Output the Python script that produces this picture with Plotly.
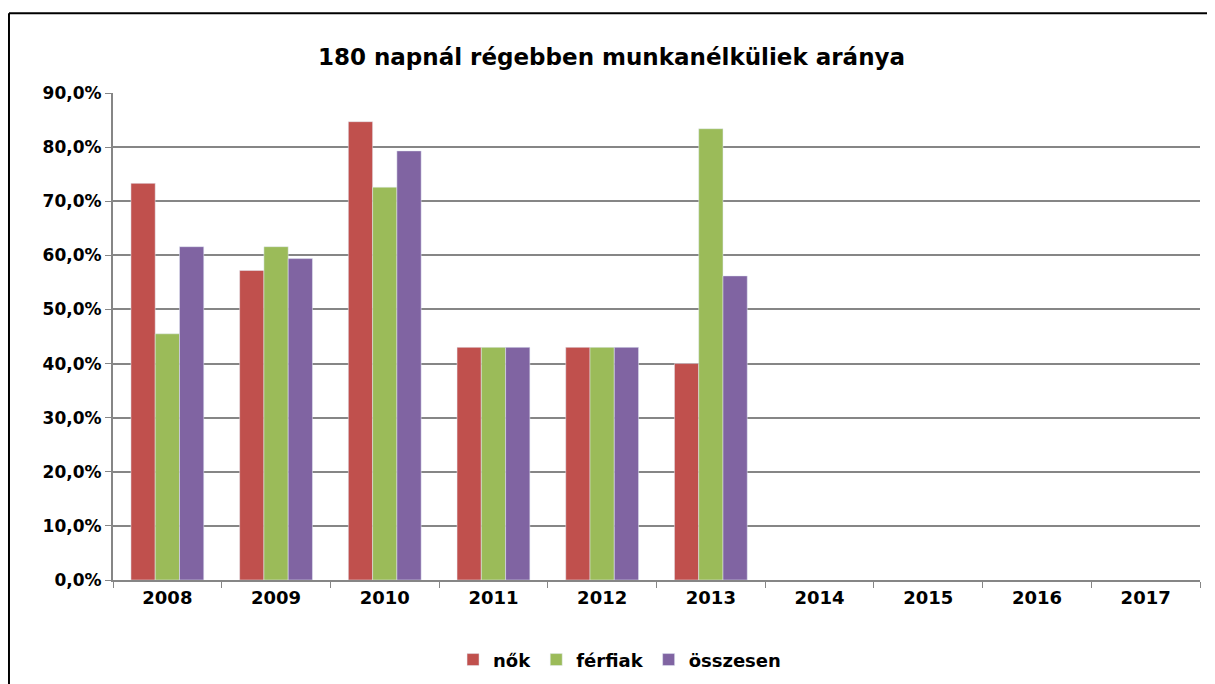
import plotly.graph_objects as go

evek = ['2008', '2009', '2010', '2011', '2012', '2013', '2014', '2015', '2016', '2017']
nok = [0.733, 0.572, 0.847, 0.430, 0.430, 0.400, None, None, None, None]
ferfiak = [0.455, 0.616, 0.726, 0.430, 0.430, 0.834, None, None, None, None]
osszesen = [0.616, 0.594, 0.793, 0.430, 0.430, 0.562, None, None, None, None]

font_b = dict(family='DejaVu Sans', weight='bold', color='black')

fig = go.Figure()
fig.add_bar(x=evek, y=nok, name='nők', marker_color='#C0504D')
fig.add_bar(x=evek, y=ferfiak, name='férfiak', marker_color='#9BBB59')
fig.add_bar(x=evek, y=osszesen, name='összesen', marker_color='#8064A2')

# a lap 8px-es body margóval jelenik meg, ezért kisebb a méret
fig.update_layout(
    width=1207, height=676,
    paper_bgcolor='white', plot_bgcolor='white',
    separators=', ',
    barmode='group', bargap=0.33, bargroupgap=0,
    margin=dict(l=105, r=15, t=85, b=104, autoexpand=False),
    title=dict(text='180 napnál régebben munkanélküliek aránya', x=0.5, xanchor='center',
               y=1 - 49 / 676, yanchor='middle', font=dict(font_b, size=23)),
    legend=dict(orientation='h', x=0.466, xanchor='center', y=-0.164, yanchor='middle',
                font=dict(font_b, size=18), itemwidth=30),
    showlegend=True,
)
fig.update_xaxes(type='category', showline=True, linecolor='#868686', linewidth=2,
                 ticks='outside', tickson='boundaries', ticklen=6, tickcolor='#868686',
                 tickfont=dict(font_b, size=18), showgrid=False, automargin=False)
fig.update_yaxes(range=[0, 0.9], dtick=0.1, tickformat='.1%', showline=True,
                 linecolor='#868686', linewidth=2, ticks='outside', ticklen=6,
                 tickcolor='#868686', gridcolor='#868686', gridwidth=2,
                 tickfont=dict(font_b, size=17), zeroline=False, automargin=False)

# keret: csak a bal és a felső él látszik
fig.add_shape(type='line', xref='paper', yref='paper', x0=-0.0957, x1=-0.0957, y0=-0.3, y1=1.164,
              line=dict(color='black', width=2))
fig.add_shape(type='line', xref='paper', yref='paper', x0=-0.0957, x1=1.2, y0=1.164, y1=1.164,
              line=dict(color='black', width=2))

fig.write_html('out.html')
